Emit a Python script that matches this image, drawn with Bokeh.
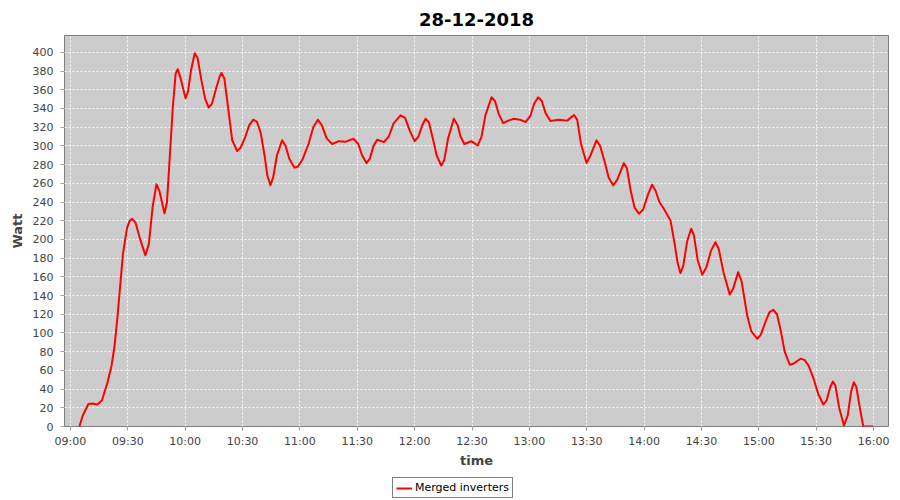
import pandas as pd
from bokeh.plotting import figure
from bokeh.layouts import column
from bokeh.models import (FixedTicker, SingleIntervalTicker, DatetimeTickFormatter,
                          Legend, LegendItem, Range1d, ColumnDataSource)
from bokeh.embed import file_html
from bokeh.resources import INLINE

# ---------------- data ----------------
chart_title = "28-12-2018"
day = "2018-12-28"
series_name = "Merged inverters"
y_label = "Watt"
x_label = "time"

# minutes after 09:00
minutes = [4.7, 6.5, 9.4, 11.5, 14.1, 16.5, 19.4, 21.5, 23.0, 24.6, 26.0, 27.5, 29.6, 31.0,
           32.3, 34.0, 36.5, 39.2, 41.0, 43.0, 45.0, 46.5, 49.2, 50.5, 52.0, 53.5, 55.0,
           56.1, 57.5, 60.2, 61.5, 63.0, 65.0, 66.5, 68.5, 70.5, 72.3, 74.0, 76.0, 78.0,
           79.0, 80.5, 82.5, 84.6, 87.2, 89.0, 91.5, 93.5, 95.6, 97.5, 99.5, 101.5, 103.0,
           104.6, 106.0, 108.0, 110.7, 112.5, 114.5, 117.2, 119.0, 121.5, 124.5, 127.0,
           129.4, 131.5, 134.0, 136.9, 140.3, 144.0, 148.0, 150.5, 152.5, 154.8, 156.5,
           158.5, 160.4, 163.9, 166.5, 169.0, 172.6, 175.0, 177.5, 180.0, 182.0, 184.0,
           185.7, 187.5, 189.5, 191.5, 193.9, 195.5, 197.5, 200.5, 202.5, 204.0, 206.0,
           209.6, 213.0, 215.0, 217.0, 220.2, 222.0, 224.0, 226.3, 229.0, 231.9, 235.0,
           238.0, 240.5, 242.5, 244.6, 246.5, 248.5, 251.0, 255.4, 259.8, 263.3, 265.0,
           267.0, 269.9, 272.0, 275.1, 277.0, 279.5, 281.5, 283.8, 286.0, 289.4, 291.0,
           293.0, 295.0, 297.3, 299.5, 302.0, 304.2, 306.0, 308.0, 310.3, 313.8, 316.0,
           317.5, 319.0, 320.5, 322.5, 324.6, 326.0, 328.0, 330.4, 332.5, 335.0, 337.3,
           339.0, 341.5, 344.8, 346.5, 349.2, 351.0, 353.9, 356.0, 359.1, 361.0, 363.5,
           365.5, 367.5, 369.5, 371.5, 373.5, 376.2, 378.0, 380.0, 382.0, 384.0, 386.0,
           388.5, 391.0, 393.7, 395.5, 397.3, 398.7, 400.0, 402.0, 404.5, 406.5, 408.3,
           409.7, 411.0, 413.0, 414.6, 420.0]
watts = [0, 12, 24, 24.5, 23.5, 28, 47, 65, 85, 117, 150, 185, 212, 220,
         222, 218, 200, 183, 195, 235, 259, 252, 228, 240, 290, 340, 377,
         382, 373, 351, 358, 380, 399, 394, 370, 350, 341, 345, 360, 374,
         378, 372, 340, 306, 294.5, 298, 310, 322, 328, 326, 314, 290, 268,
         258, 266, 290, 306, 300, 286, 276.7, 278, 286, 302, 320,
         328, 322, 308, 302, 305, 304.5, 307.6, 302, 290, 281.6, 286,
         300, 306.6, 304, 310, 324, 332.6, 330, 316, 305, 310, 322,
         329, 325, 308, 290, 279, 285, 308, 329, 322, 310, 302,
         305, 300.5, 310, 332.6, 352, 348, 334, 324.4, 327, 329, 328,
         325.5, 332, 345, 352, 348, 335, 326.6, 328, 327, 333, 328,
         302, 281.6, 290, 306, 300, 282, 266, 257.8, 264, 281.6, 276,
         252, 234, 227.5, 232, 248, 258.5, 252, 240, 232.8, 220.3, 195,
         175, 164, 172, 198, 211.4, 205, 178, 162.2, 170, 188, 197,
         190, 165, 141, 147, 165, 155, 118.7, 102, 93.8, 98, 112,
         122, 124.8, 120, 102, 80, 66, 67, 70, 72.5, 71, 65,
         52, 35, 23.5, 28, 42, 48, 44, 20, 1, 12, 38,
         47.4, 42, 18, 0, 0]

x_tick_labels = ["09:00", "09:30", "10:00", "10:30", "11:00", "11:30", "12:00", "12:30",
                 "13:00", "13:30", "14:00", "14:30", "15:00", "15:30", "16:00"]
y_tick_step = 20
y_max = 418

# ---------------- main figure ----------------
base = pd.Timestamp(day + " 09:00")
times = base + pd.to_timedelta(minutes, unit="m")
src = ColumnDataSource(dict(t=times, w=watts))

x_start = base - pd.Timedelta(minutes=3.1)
x_end = base + pd.Timedelta(hours=7, minutes=7.8)

p = figure(frame_width=824, frame_height=391, x_axis_type="datetime",
           x_range=Range1d(x_start, x_end), y_range=Range1d(0, y_max),
           output_backend="svg", toolbar_location=None,
           min_border_left=64, min_border_right=11, min_border_top=35, min_border_bottom=10,
           background_fill_color="#cccccc", border_fill_color="white",
           outline_line_color="#7f7f7f", outline_line_width=1)

p.title.text = chart_title
p.title.align = "center"
p.title.text_font = "DejaVu Sans"
p.title.text_font_size = "18px"
p.title.text_font_style = "bold"
p.title.text_color = "black"
p.title.text_line_height = 0.5
p.title.vertical_align = "bottom"
p.title.standoff = 20

r = p.line("t", "w", source=src, line_color="red", line_width=2, line_join="round")

tick_ms = [pd.Timestamp(day + " " + t).value // 10**6 for t in x_tick_labels]
p.xaxis.ticker = FixedTicker(ticks=tick_ms)
p.xaxis.formatter = DatetimeTickFormatter(minutes="%H:%M", hourmin="%H:%M", hours="%H:%M")
p.yaxis.ticker = SingleIntervalTicker(interval=y_tick_step)

for ax in (p.xaxis[0], p.yaxis[0]):
    ax.axis_line_color = None
    ax.major_tick_line_color = "#a0a0a0"
    ax.major_tick_out = 4
    ax.major_tick_in = 0
    ax.minor_tick_line_color = None
    ax.major_label_text_font = "DejaVu Sans"
    ax.major_label_text_font_size = "11px"
    ax.major_label_text_color = "#444444"
    ax.axis_label_text_font = "DejaVu Sans"
    ax.axis_label_text_font_size = "13px"
    ax.axis_label_text_font_style = "bold"
    ax.axis_label_text_color = "#444444"

p.xaxis.major_label_standoff = 4
p.xaxis.axis_label_standoff = 2
p.yaxis.major_label_standoff = 7
p.yaxis.axis_label_standoff = 5

p.xaxis.axis_label = x_label
p.yaxis.axis_label = y_label

p.grid.grid_line_color = "white"
p.grid.grid_line_dash = "2 2"
p.grid.grid_line_width = 1
p.grid.grid_line_alpha = 0.9

# ---------------- legend strip ----------------
leg = figure(width=899, height=30, x_range=Range1d(0, 1), y_range=Range1d(0, 1),
             output_backend="svg", toolbar_location=None,
             x_axis_location=None, y_axis_location=None,
             min_border=0, outline_line_color=None,
             background_fill_color="white", border_fill_color="white")
leg.grid.visible = False
# same series (falls outside this strip's ranges, so only its legend key shows)
key = leg.line("t", "w", source=src, line_color="red", line_width=2)

legend = Legend(items=[LegendItem(label=series_name, renderers=[key])],
                location=(328, 2), orientation="horizontal",
                border_line_color="black", border_line_width=1,
                background_fill_color="white", background_fill_alpha=1,
                label_text_font="DejaVu Sans", label_text_font_size="11px",
                label_text_color="black",
                padding=3, margin=0, spacing=0, label_standoff=3,
                glyph_width=16, glyph_height=12, label_height=12)
leg.add_layout(legend, "center")

layout = column(p, leg, spacing=0)
open("out.html", "w").write(file_html(layout, INLINE))
